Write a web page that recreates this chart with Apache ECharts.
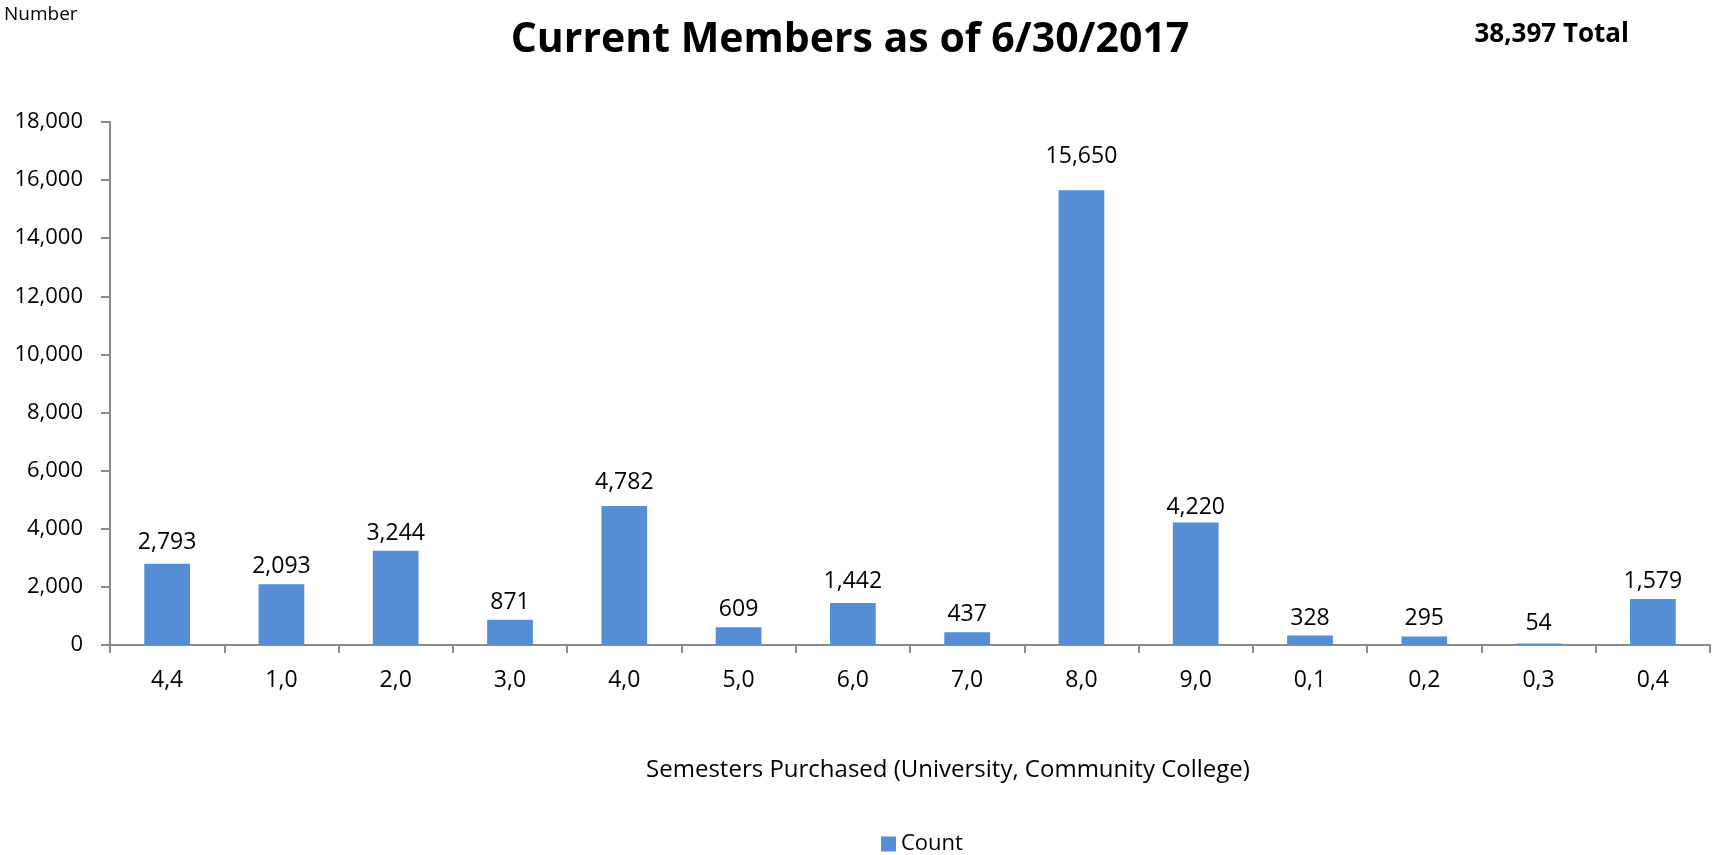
<!DOCTYPE html>
<html>
<head>
<meta charset="utf-8">
<title>Current Members as of 6/30/2017</title>
<script src="https://cdn.jsdelivr.net/npm/echarts@6/dist/echarts.min.js"></script>
<style>
  html, body { margin: 0; padding: 0; background: #ffffff; }
  #chart { width: 1714px; height: 855px; }
</style>
</head>
<body>
<div id="chart"></div>
<script>
// Semesters purchased (University, Community College) and member counts
const categories = ['4,4', '1,0', '2,0', '3,0', '4,0', '5,0', '6,0', '7,0', '8,0', '9,0', '0,1', '0,2', '0,3', '0,4'];
const counts = [2793, 2093, 3244, 871, 4782, 609, 1442, 437, 15650, 4220, 328, 295, 54, 1579];
const yTicks = { min: 0, max: 18000, interval: 2000 };
const totalLabel = '38,397 Total';
const titleText = 'Current Members as of 6/30/2017';
const yAxisTitle = 'Number';
const xAxisTitle = 'Semesters Purchased (University, Community College)';
const seriesName = 'Count';

// extra lift (px) for a few hand-placed value labels
const labelLift = [4, 0, 0, 0, 6, 0, 4, 0, 16, -3, 0, 0, 2, 0];

const FONT = '"Open Sans", "Noto Sans", sans-serif';
const BAR_COLOR = '#558ED5';
const AXIS_COLOR = '#8A8A8A';

const fmt = v => v.toLocaleString('en-US');

const chart = echarts.init(document.getElementById('chart'), null, { renderer: 'canvas' });

chart.setOption({
  backgroundColor: '#ffffff',
  animation: false,
  textStyle: { fontFamily: FONT, color: '#000' },
  grid: { left: 110, right: 4, top: 122, bottom: 210, containLabel: false },
  legend: {
    data: [seriesName],
    left: 876,
    top: 828,
    icon: 'rect',
    itemWidth: 15,
    itemHeight: 15,
    itemGap: 6,
    textStyle: { fontFamily: FONT, fontSize: 22, color: '#000', padding: [0, 0, 0, 0] }
  },
  xAxis: {
    type: 'category',
    data: categories,
    boundaryGap: true,
    axisLine: { show: true, lineStyle: { color: AXIS_COLOR, width: 2 } },
    axisTick: { show: true, interval: 0, length: 8, lineStyle: { color: AXIS_COLOR, width: 2 } },
    axisLabel: { interval: 0, margin: 24, fontFamily: FONT, fontSize: 23, color: '#000' },
    splitLine: { show: false }
  },
  yAxis: {
    type: 'value',
    min: yTicks.min,
    max: yTicks.max,
    interval: yTicks.interval,
    axisLine: { show: true, lineStyle: { color: AXIS_COLOR, width: 2 } },
    axisTick: { show: true, length: 9, lineStyle: { color: AXIS_COLOR, width: 2 } },
    axisLabel: { margin: 27, fontFamily: FONT, fontSize: 22, color: '#000', formatter: v => fmt(v) },
    splitLine: { show: false }
  },
  series: [{
    name: seriesName,
    type: 'bar',
    data: counts.map((v, i) => ({
      value: v,
      label: { offset: [0, -labelLift[i]] }
    })),
    barWidth: '40%',
    itemStyle: { color: BAR_COLOR },
    label: {
      show: true,
      position: 'top',
      distance: 6,
      fontFamily: FONT,
      fontSize: 23,
      color: '#000',
      formatter: p => fmt(p.value)
    }
  }],
  graphic: [
    {
      type: 'text',
      style: { x: 850, y: 40, text: titleText, align: 'center', verticalAlign: 'middle',
               font: 'bold 41px ' + FONT, fill: '#000' }
    },
    {
      type: 'text',
      style: { x: 4, y: 15, text: yAxisTitle, align: 'left', verticalAlign: 'middle',
               font: '19px ' + FONT, fill: '#000' }
    },
    {
      type: 'text',
      style: { x: 1629, y: 35, text: totalLabel, align: 'right', verticalAlign: 'middle',
               font: 'bold 26px ' + FONT, fill: '#000' }
    },
    {
      type: 'text',
      style: { x: 948, y: 770, text: xAxisTitle, align: 'center', verticalAlign: 'middle',
               font: '24px ' + FONT, fill: '#000' }
    }
  ]
});
</script>
</body>
</html>
